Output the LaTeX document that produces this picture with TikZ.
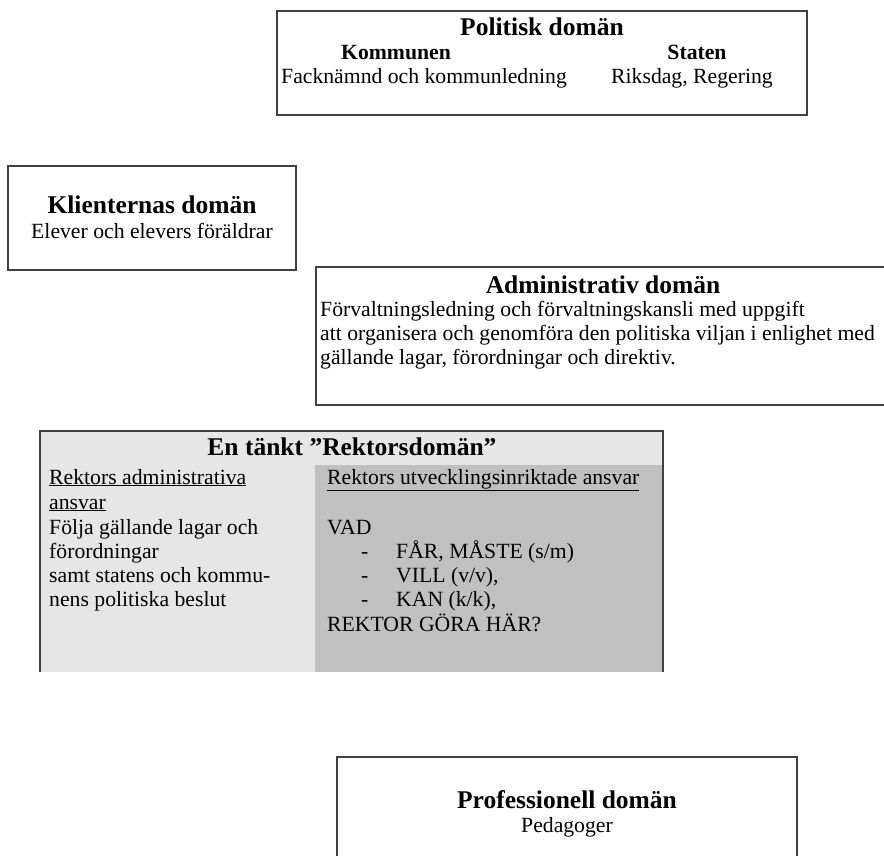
\documentclass[tikz,border=0pt]{standalone}
\usepackage{fontspec}
\setmainfont{Liberation Serif}
\definecolor{lgray}{HTML}{E6E6E6}
\definecolor{dgray}{HTML}{C0C0C0}
\definecolor{edge}{HTML}{404040}
\begin{document}
\begin{tikzpicture}[x=1pt,y=-1pt,
  dombox/.style={draw=edge,line width=1.3pt},
  ttl/.style={font=\fontsize{25.5}{29}\selectfont\bfseries,inner sep=0pt},
  sub/.style={font=\fontsize{21.7}{25}\selectfont\bfseries,inner sep=0pt},
  txt/.style={font=\fontsize{21.7}{25}\selectfont,inner sep=0pt}]
\useasboundingbox (0,0) rectangle (884,856);
% Politisk
\draw[dombox] (277,11) rectangle (807,115);
\node[ttl,anchor=base] (pt) at (542,36) {Politisk domän};
\node[sub,anchor=base] (pk) at (396,60) {Kommunen};
\node[sub,anchor=base] (ps) at (697,60) {Staten};
\node[txt,anchor=base west] (pk2) at (281,84) {Facknämnd och kommunledning};
\node[txt,anchor=base west] (ps2) at (611,84) {Riksdag, Regering};
% Klienternas
\draw[dombox] (8,166) rectangle (296,270);
\node[ttl,anchor=base] (kt) at (152,213) {Klienternas domän};
\node[txt,anchor=base] (kt2) at (152,238) {Elever och elevers föräldrar};
% Administrativ
\draw[dombox] (890,267) -- (316,267) -- (316,405) -- (890,405);
\node[ttl,anchor=base] (at) at (603,293) {Administrativ domän};
\node[txt,anchor=base west] (a1) at (320,316) {Förvaltningsledning och förvaltningskansli med uppgift};
\node[txt,anchor=base west] (a2) at (320,340) {att organisera och genomföra den politiska viljan i enlighet med};
\node[txt,anchor=base west] (a3) at (320,364) {gällande lagar, förordningar och direktiv.};
% Rektors
\fill[lgray] (40,431) rectangle (663,672);
\fill[dgray] (315,465) rectangle (663,672);
\draw[dombox] (40,672) -- (40,431) -- (663,431) -- (663,672);
\node[ttl,anchor=base] (rt) at (352,455) {En tänkt ”Rektorsdomän”};
\node[txt,anchor=base west] (l1) at (49,484) {\underline{Rektors administrativa}};
\node[txt,anchor=base west] (l2) at (49,509) {\underline{ansvar}};
\node[txt,anchor=base west] (l3) at (49,534) {Följa gällande lagar och};
\node[txt,anchor=base west] (l4) at (49,558) {förordningar};
\node[txt,anchor=base west] (l5) at (49,582) {samt statens och kommu-};
\node[txt,anchor=base west] (l6) at (49,606) {nens politiska beslut};
\node[txt,anchor=base west] (r1) at (327,484) {\underline{Rektors utvecklingsinriktade ansvar}};
\node[txt,anchor=base west] (r2) at (327,534) {VAD};
\node[txt,anchor=base west] (d1) at (361,558) {-};
\node[txt,anchor=base west] (r3) at (396,558) {FÅR, MÅSTE (s/m)};
\node[txt,anchor=base west] (d2) at (361,582) {-};
\node[txt,anchor=base west] (r4) at (396,582) {VILL (v/v),};
\node[txt,anchor=base west] (d3) at (361,606) {-};
\node[txt,anchor=base west] (r5) at (396,606) {KAN (k/k),};
\node[txt,anchor=base west] (r6) at (327,631) {REKTOR GÖRA HÄR?};
% Professionell
\draw[dombox] (337,862) -- (337,757) -- (797,757) -- (797,862);
\node[ttl,anchor=base] (prt) at (567,808) {Professionell domän};
\node[txt,anchor=base] (pr2) at (567,832) {Pedagoger};
\end{tikzpicture}
\end{document}
